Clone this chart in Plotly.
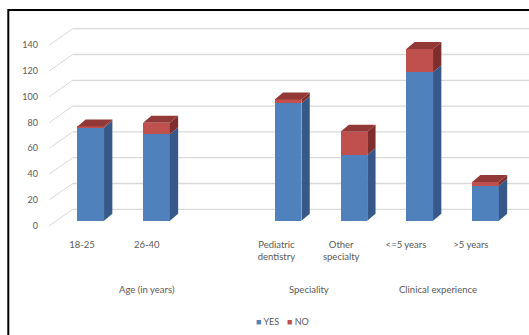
import plotly.graph_objects as go

# Survey responses per respondent group (stacked YES / NO)
categories = ["18-25", "26-40", "", "Pediatric<br>dentistry", "Other<br>specialty", "<=5 years", ">5 years"]
yes_counts = [72, 67, None, 91, 51, 115, 27]
no_counts = [1, 9, None, 3, 18, 18, 3]
series_names = ["YES", "NO"]
groups = ["Age (in years)", "Speciality", "Clinical experience"]
group_centers = [1, 3.5, 5.5]
y_ticks = [0, 20, 40, 60, 80, 100, 120, 140]

W, H = 529, 335
ML, MR, MT, MB = 40, 0, 25, 107
plot_w = W - ML - MR
plot_h = H - MT - MB

# axis ranges (bar plane, label plane)
x_range = [-0.7705, 6.661]
x2_range = [-0.6481, 6.898]
y_range = [-5.66, 151.7]
px_x = plot_w / (x_range[1] - x_range[0])
px_y = plot_h / (y_range[1] - y_range[0])

# pseudo-3D depth (pixels converted to data units)
depth_dx = 8.3 / px_x
depth_dy = 7.0 / px_y
front_shift = 5.0 / px_y      # label plane sits below the bar plane
back_shift = 11.4 / px_y      # back wall sits above the bar plane
y2_range = [y_range[0] + front_shift, y_range[1] + front_shift]
bar_w = 26.7 / px_x

BLUE, BLUE_SIDE = "#4F81BD", "#36598A"
RED, RED_SIDE, RED_TOP = "#C0504D", "#7E2E2C", "#923836"
GRID = "#D9D9D9"
TEXT = "#595959"
FONT = "Lato"

xs = list(range(len(categories)))

fig = go.Figure()
fig.add_trace(go.Bar(x=xs, y=yes_counts, name=series_names[0],
                     marker=dict(color=BLUE, line=dict(width=0)), width=bar_w))
fig.add_trace(go.Bar(x=xs, y=no_counts, name=series_names[1],
                     marker=dict(color=RED, line=dict(width=0)), width=bar_w))
# carrier for the label axes
fig.add_trace(go.Scatter(x=[0], y=[0], xaxis="x2", yaxis="y2", mode="markers",
                         marker=dict(opacity=0), showlegend=False, hoverinfo="skip"))

shapes = []
# back-wall gridlines and floor diagonals
x_wall = (72.7 - ML) / plot_w
x_front = (49.3 - ML) / plot_w
for v in y_ticks:
    shapes.append(dict(type="line", xref="paper", yref="y", x0=x_wall, x1=1.0,
                       y0=v + back_shift, y1=v + back_shift, layer="below",
                       line=dict(color=GRID, width=1.3)))
    shapes.append(dict(type="line", xref="paper", yref="y", x0=x_front, x1=x_wall,
                       y0=v - front_shift, y1=v + back_shift, layer="below",
                       line=dict(color=GRID, width=1)))

# side and top faces of every stacked bar
for i, (yv, nv) in enumerate(zip(yes_counts, no_counts)):
    if yv is None:
        continue
    xl, xr = i - bar_w / 2, i + bar_w / 2
    segs = [(0, yv, BLUE_SIDE), (yv, yv + nv, RED_SIDE)]
    for y0, y1, col in segs:
        path = (f"M{xr},{y0} L{xr + depth_dx},{y0 + depth_dy} "
                f"L{xr + depth_dx},{y1 + depth_dy} L{xr},{y1} Z")
        shapes.append(dict(type="path", xref="x", yref="y", path=path,
                           fillcolor=col, line=dict(width=0), layer="above"))
    top = yv + nv
    path = (f"M{xl},{top} L{xl + depth_dx},{top + depth_dy} "
            f"L{xr + depth_dx},{top + depth_dy} L{xr},{top} Z")
    shapes.append(dict(type="path", xref="paper" if False else "x", yref="y", path=path,
                       fillcolor=RED_TOP, line=dict(width=0), layer="above"))

# outer frame
shapes.append(dict(type="rect", xref="paper", yref="paper",
                   x0=(8.3 - ML) / plot_w, x1=1.2,
                   y0=-0.8, y1=(plot_h + MT - 10) / plot_h,
                   line=dict(color="#000000", width=2), layer="above"))

annotations = []
for g, c in zip(groups, group_centers):
    annotations.append(dict(text=g, xref="x2", yref="paper", x=c,
                            y=-(289.3 - (MT + plot_h)) / plot_h,
                            yanchor="middle", showarrow=False,
                            font=dict(family=FONT, size=9.5, color=TEXT)))

# compact legend: small colour squares followed by the series names
legend_y = -(321 - (MT + plot_h)) / plot_h
legend_items = [(series_names[0], BLUE, 255), (series_names[1], RED, 286)]
for name, col, px in legend_items:
    annotations.append(dict(
        text=f"<span style='color:{col}'>■</span> {name}",
        xref="paper", yref="paper", x=(px - 1 - ML) / plot_w, xanchor="left",
        y=legend_y, yanchor="middle", showarrow=False,
        font=dict(family=FONT, size=9, color=TEXT)))

fig.update_layout(
    width=W, height=H,
    margin=dict(l=ML, r=MR, t=MT, b=MB),
    paper_bgcolor="white", plot_bgcolor="white",
    barmode="stack", bargap=0,
    showlegend=False,
    xaxis=dict(range=x_range, showgrid=False, zeroline=False, showticklabels=False,
               showline=False, fixedrange=True),
    yaxis=dict(range=y_range, showgrid=False, zeroline=False, showticklabels=False,
               showline=False, fixedrange=True),
    xaxis2=dict(range=x2_range, overlaying="x", side="bottom", anchor="y2",
                tickmode="array", tickvals=xs, ticktext=categories,
                showgrid=False, zeroline=False, showline=False, ticks="",
                ticklabelstandoff=9,
                tickfont=dict(family=FONT, size=9.5, color=TEXT)),
    yaxis2=dict(range=y2_range, overlaying="y", side="left", anchor="x2",
                tickmode="array", tickvals=y_ticks,
                showgrid=False, zeroline=False, showline=False, ticks="",
                ticklabelstandoff=1,
                tickfont=dict(family=FONT, size=9, color=TEXT)),
    shapes=shapes,
    annotations=annotations,
)

fig.write_html("out.html")
